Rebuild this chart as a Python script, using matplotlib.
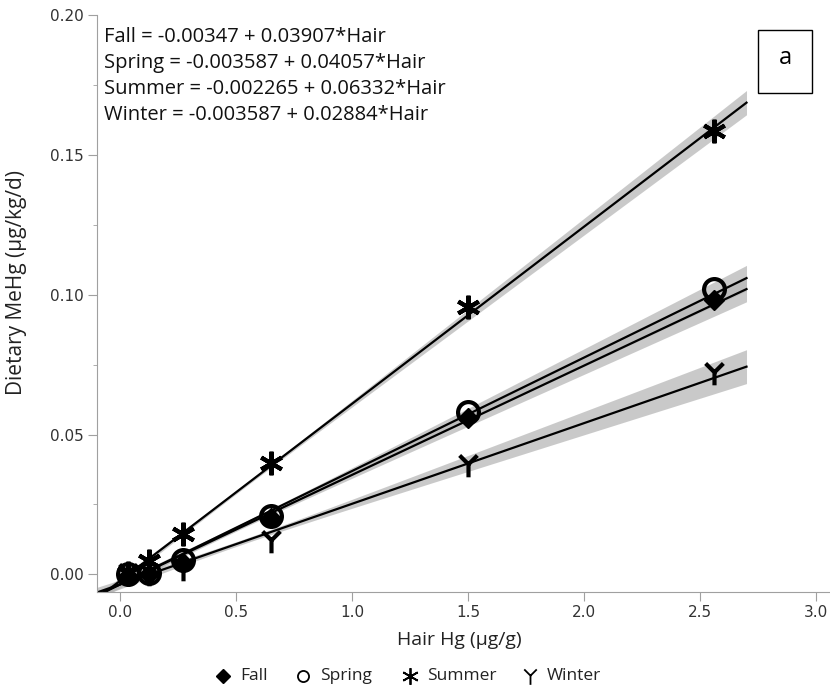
import numpy as np
import matplotlib.pyplot as plt
from matplotlib.path import Path
from matplotlib.patches import Rectangle
from matplotlib.lines import Line2D

plt.rcParams['font.family'] = ['Open Sans', 'DejaVu Sans']

# data
hair = [0.035, 0.125, 0.27, 0.65, 1.5, 2.56]
fall = [-0.0005, 0.0, 0.004, 0.020, 0.056, 0.098]
spring = [0.0, 0.0005, 0.005, 0.021, 0.058, 0.102]
summer = [0.0005, 0.0046, 0.0143, 0.040, 0.0957, 0.1586]
winter = [0.0, 0.0, 0.002, 0.012, 0.039, 0.072]

seasons = ['Fall', 'Spring', 'Summer', 'Winter']
intercepts = [-0.00347, -0.003587, -0.002265, -0.003587]
slopes = [0.03907, 0.04057, 0.06332, 0.02884]
band_w = [0.0045, 0.0045, 0.0043, 0.006]

# Y shaped marker
y_marker = Path([(0, -1), (0, 0.1), (-0.75, 0.85), (0, 0.1), (0.75, 0.85)],
                [Path.MOVETO, Path.LINETO, Path.LINETO, Path.MOVETO, Path.LINETO])

fig = plt.figure(figsize=(8.3, 6.88), dpi=100)
ax = fig.add_axes([0.117, 0.14, 0.883, 0.838])

xf = np.linspace(-0.1, 2.7, 200)
for b0, b1, w in zip(intercepts, slopes, band_w):
    yf = b0 + b1 * xf
    hw = w * np.sqrt(0.02 + ((xf - 0.5) / 2.2) ** 2)
    ax.fill_between(xf, yf - hw, yf + hw, color='#b8b8b8', alpha=0.75, lw=0)
for b0, b1 in zip(intercepts, slopes):
    ax.plot(xf, b0 + b1 * xf, color='black', lw=1.6)

ax.plot(hair, fall, ls='none', marker='D', ms=10, color='black')
ax.plot(hair, spring, ls='none', marker='o', ms=15, mfc='none', mec='black', mew=3)
ax.plot(hair, summer, ls='none', marker=(6, 2, 0), ms=17, mec='black', mew=3)
ax.plot(hair, winter, ls='none', marker=y_marker, ms=17, mfc='none', mec='black', mew=3)

ax.set_xlim(-0.1, 3.06)
ax.set_ylim(-0.0062, 0.2)
ax.set_xticks([0.0, 0.5, 1.0, 1.5, 2.0, 2.5, 3.0])
ax.set_xticklabels(['0.0', '0.5', '1.0', '1.5', '2.0', '2.5', '3.0'])
ax.set_yticks([0.0, 0.05, 0.10, 0.15, 0.20])
ax.set_yticklabels(['0.00', '0.05', '0.10', '0.15', '0.20'])
ax.set_yticks([0.025, 0.075, 0.125, 0.175], minor=True)
for s in ['top', 'right']:
    ax.spines[s].set_visible(False)
for s in ['left', 'bottom']:
    ax.spines[s].set_color('#a0a0a0')
ax.tick_params(axis='both', which='major', color='#a0a0a0', length=6.5, pad=3,
               labelsize=11, labelcolor='#333333')
ax.tick_params(axis='y', which='minor', color='#a0a0a0', length=3)
for lab in ax.get_xticklabels() + ax.get_yticklabels():
    lab.set_family('DejaVu Sans')
ax.set_xlabel('Hair Hg (µg/g)', fontsize=14, color='#222222')
ax.xaxis.set_label_coords(0.494, -0.069)
ax.set_ylabel('Dietary MeHg (µg/kg/d)', fontsize=15, color='#222222')
ax.yaxis.set_label_coords(-0.095, 0.537)

eq_lines = [f'{s} = {b0} + {b1:.5f}*Hair' for s, b0, b1 in zip(seasons, intercepts, slopes)]
for i, t in enumerate(eq_lines):
    ax.text(0.01, 0.962 - i * 0.0448, t, transform=ax.transAxes, fontsize=14.5,
            va='center', ha='left', color='#111111')

fig.patches.append(Rectangle((758 / 830, 1 - 93 / 688), 54 / 830, 63 / 688,
                             transform=fig.transFigure, fill=False, ec='black', lw=1))
fig.text(785 / 830, 1 - 58 / 688, 'a', fontsize=17, ha='center', va='center')

# legend keys laid out along the bottom
key_x = [223, 303, 410, 530]
key_styles = [
    dict(marker='D', ms=7, color='black'),
    dict(marker='o', ms=8, mfc='none', mec='black', mew=1.3),
    dict(marker=(6, 2, 0), ms=12, mec='black', mew=1.3),
    dict(marker=y_marker, ms=12, mfc='none', mec='black', mew=1.3),
]
ly = 1 - 676 / 688
for kx, st, name in zip(key_x, key_styles, seasons):
    fig.add_artist(Line2D([kx / 830], [ly], transform=fig.transFigure, ls='none', **st))
    fig.text((kx + 17) / 830, ly, name, fontsize=12.5, ha='left', va='center', color='#222222')

fig.savefig('out.png', dpi=100)
